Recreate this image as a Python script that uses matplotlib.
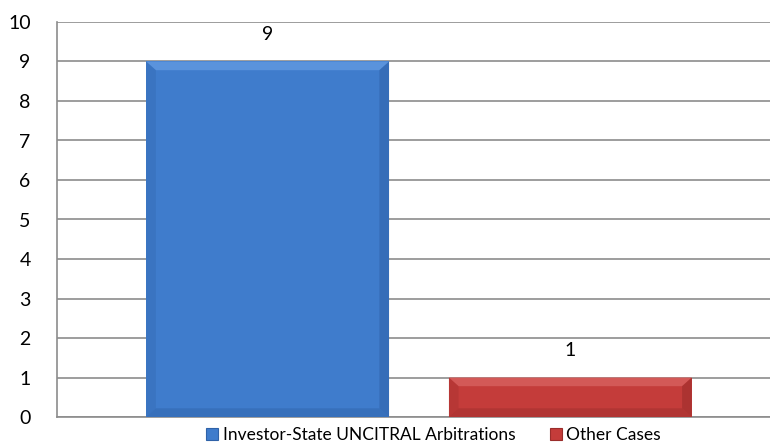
import matplotlib.pyplot as plt
from matplotlib.patches import Polygon, Patch

# data
series = ['Investor-State UNCITRAL Arbitrations', 'Other Cases']
values = [9, 1]
colors = ['#3f7ccc', '#c43c3a']
dark = ['#2f62a8', '#9a2d2b']
light = ['#5a93dc', '#d35957']
yticks = list(range(0, 11))

plt.rcParams['font.family'] = ['Lato', 'DejaVu Sans']

fig = plt.figure(figsize=(7.7, 4.44), dpi=100)
ax = fig.add_axes([57 / 770, 27 / 444, 713 / 770, 395 / 444])

width = 1.0
offsets = [-0.623, 0.623]
bars = ax.bar(offsets, values, width=width, color=colors, edgecolor='none', zorder=3)

# soft bevel: lighter top strip, darker bottom and side strips
bev_x = 0.04
bev_y = 0.22
for b, lt, dk in zip(bars, light, dark):
    x0, x1 = b.get_x(), b.get_x() + b.get_width()
    h = b.get_height()
    ax.add_patch(Polygon([(x0, h), (x1, h), (x1 - bev_x, h - bev_y), (x0 + bev_x, h - bev_y)],
                         closed=True, color=lt, zorder=4, lw=0))
    ax.add_patch(Polygon([(x0, 0), (x1, 0), (x1 - bev_x, bev_y), (x0 + bev_x, bev_y)],
                         closed=True, color=dk, zorder=4, lw=0, alpha=0.45))
    ax.add_patch(Polygon([(x1, 0), (x1, h), (x1 - bev_x, h - bev_y), (x1 - bev_x, bev_y)],
                         closed=True, color=dk, zorder=4, lw=0, alpha=0.55))
    ax.add_patch(Polygon([(x0, 0), (x0, h), (x0 + bev_x, h - bev_y), (x0 + bev_x, bev_y)],
                         closed=True, color=dk, zorder=4, lw=0, alpha=0.3))
    ax.text(b.get_x() + b.get_width() / 2, h + 0.68, str(h), ha='center', va='center',
            fontsize=14, color='black')

ax.set_ylim(0, 10)
ax.set_xlim(-1.49, 1.445)
ax.set_yticks(yticks)
ax.set_yticklabels([str(t) for t in yticks], fontsize=14)
ax.set_xticks([])
ax.tick_params(axis='y', length=0, pad=19)
ax.yaxis.grid(True, color='#8c8c8c', linewidth=1.2, zorder=0)
ax.set_axisbelow(True)
for s in ['top', 'right']:
    ax.spines[s].set_visible(False)
for s in ['left', 'bottom']:
    ax.spines[s].set_color('#8c8c8c')
    ax.spines[s].set_linewidth(1.2)

handles = [Patch(facecolor=c, edgecolor=d, linewidth=0.8) for c, d in zip(colors, dark)]
fig.legend(handles, series, loc='center', bbox_to_anchor=(0.563, 9 / 444), ncol=2,
           frameon=False, fontsize=12.5, handlelength=0.7, handleheight=0.7,
           handletextpad=0.25, columnspacing=2.0, borderpad=0)

fig.savefig('out.png', dpi=100)
